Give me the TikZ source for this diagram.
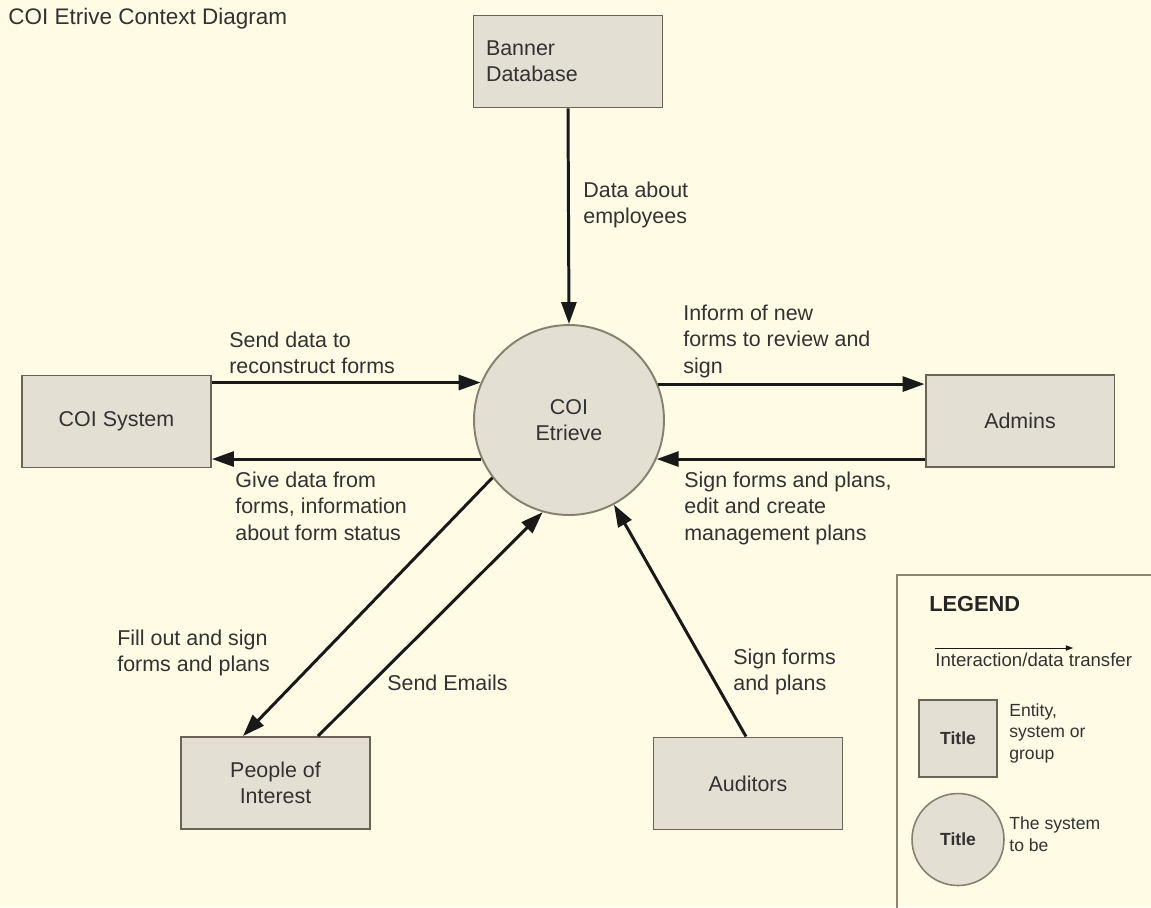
\documentclass[tikz,border=0pt]{standalone}
\usepackage{fontspec}
\setmainfont{Liberation Sans}
\usetikzlibrary{arrows.meta,calc}
\definecolor{paper}{RGB}{255,251,228}
\definecolor{boxfill}{RGB}{228,223,211}
\definecolor{boxline}{RGB}{105,100,85}
\definecolor{circline}{RGB}{135,128,110}
\definecolor{ink}{RGB}{50,50,50}
\definecolor{arrowink}{RGB}{25,25,25}
\definecolor{legline}{RGB}{140,134,112}
\newcommand\diagfont{\fontsize{12.2}{15}\selectfont}
\newcommand\legfont{\fontsize{10}{12}\selectfont}
\tikzset{
  ent/.style={draw=boxline, fill=boxfill, line width=1.1pt,
    minimum width=3.78cm, minimum height=1.84cm, inner sep=0pt,
    text=ink, align=center, font=\diagfont},
  sysc/.style={circle, draw=circline, fill=boxfill, line width=1.1pt,
    minimum size=3.8cm, inner sep=0pt, text=ink, align=center, font=\diagfont},
  flow/.style={draw=arrowink, line width=1.7pt,
    -{Triangle[length=0.44cm,width=0.3cm]}},
  lbl/.style={text=ink, align=left, inner sep=0pt, anchor=base west, font=\diagfont},
  leglbl/.style={text=ink, align=left, inner sep=0pt, anchor=base west, font=\legfont},
}
\begin{document}
\begin{tikzpicture}[x=0.02cm,y=-0.02cm]
  % page and background
  \useasboundingbox (0,0) rectangle (1151,907);
  \fill[paper] (0,0) rectangle (1151,907);

  % heading
  \node[lbl, font=\fontsize{12.8}{15}\selectfont] (heading) at (8,24) {COI Etrive Context Diagram};

  % system in the centre
  \node[sysc] (sys) at (569,420) {COI\\Etrieve};

  % external entities
  \node[ent, align=left, text width=3.28cm, inner xsep=0.24cm] (ban) at (568,61.5) {Banner\\Database};
  \node[ent] (coi) at (116.5,421.5) {COI System};
  \node[ent] (adm) at (1020,421) {Admins};
  \node[ent] (poi) at (275.5,783) {People of\\Interest};
  \node[ent] (aud) at (748,783.5) {Auditors};

  % data flows
  \draw[flow] (ban.south) -- (sys.north);
  \draw[flow] (coi.east |- sys.157.7) -- (sys.157.7);
  \draw[flow] (sys.204.2) -- (coi.east |- sys.204.2);
  \draw[flow] (sys.22.3) -- (adm.west |- sys.22.3);
  \draw[flow] (adm.west |- sys.-24.2) -- (sys.-24.2);
  \draw[flow] (sys.217.3) -- ($(poi.north)+(-32.5,0)$);
  \draw[flow] ($(poi.north)+(42.5,0)$) -- (sys.254);
  \draw[flow] ($(aud.north)+(-2,0)$) -- (sys.-62);

  % flow labels (anchored at the baseline of their last line)
  \node[lbl] (tBan) at (583,223.5) {Data about\\employees};
  \node[lbl] (tSend) at (229,373.5) {Send data to\\reconstruct forms};
  \node[lbl] (tGive) at (235,540) {Give data from\\forms, information\\about form status};
  \node[lbl] (tInf) at (683,373) {Inform of new\\forms to review and\\sign};
  \node[lbl] (tAdm) at (684,540) {Sign forms and plans,\\edit and create\\management plans};
  \node[lbl] (tFill) at (117,671.5) {Fill out and sign\\forms and plans};
  \node[lbl] (tMail) at (387,690) {Send Emails};
  \node[lbl] (tAud) at (733,690.5) {Sign forms\\and plans};

  % legend
  \draw[legline, line width=0.9pt] (897,930) -- (897,575) -- (1170,575);
  \node[lbl, font=\bfseries\fontsize{12.4}{14}\selectfont, text=black!85] (legT) at (929,611) {LEGEND};
  \coordinate (la) at (935,648);
  \coordinate (lb) at (1073,648);
  \draw[arrowink, line width=0.5pt, -{Triangle[length=4pt,width=3pt]}] (la) -- (lb);
  \node[leglbl, font=\fontsize{10.6}{12}\selectfont] (legA) at (935,666) {Interaction/data transfer};
  \node[draw=boxline, fill=boxfill, line width=0.9pt, minimum width=1.56cm, minimum height=1.54cm,
        inner sep=0pt, font=\bfseries\legfont, text=ink] (legBox) at (958,738.5) {Title};
  \node[leglbl] (legBoxT) at (1009,759) {Entity,\\system or\\group};
  \node[circle, draw=circline, fill=boxfill, line width=0.9pt, minimum size=1.84cm,
        inner sep=0pt, font=\bfseries\legfont, text=ink] (legCirc) at (958,839.5) {Title};
  \node[leglbl] (legCircT) at (1009,851) {The system\\to be};
\end{tikzpicture}
\end{document}
